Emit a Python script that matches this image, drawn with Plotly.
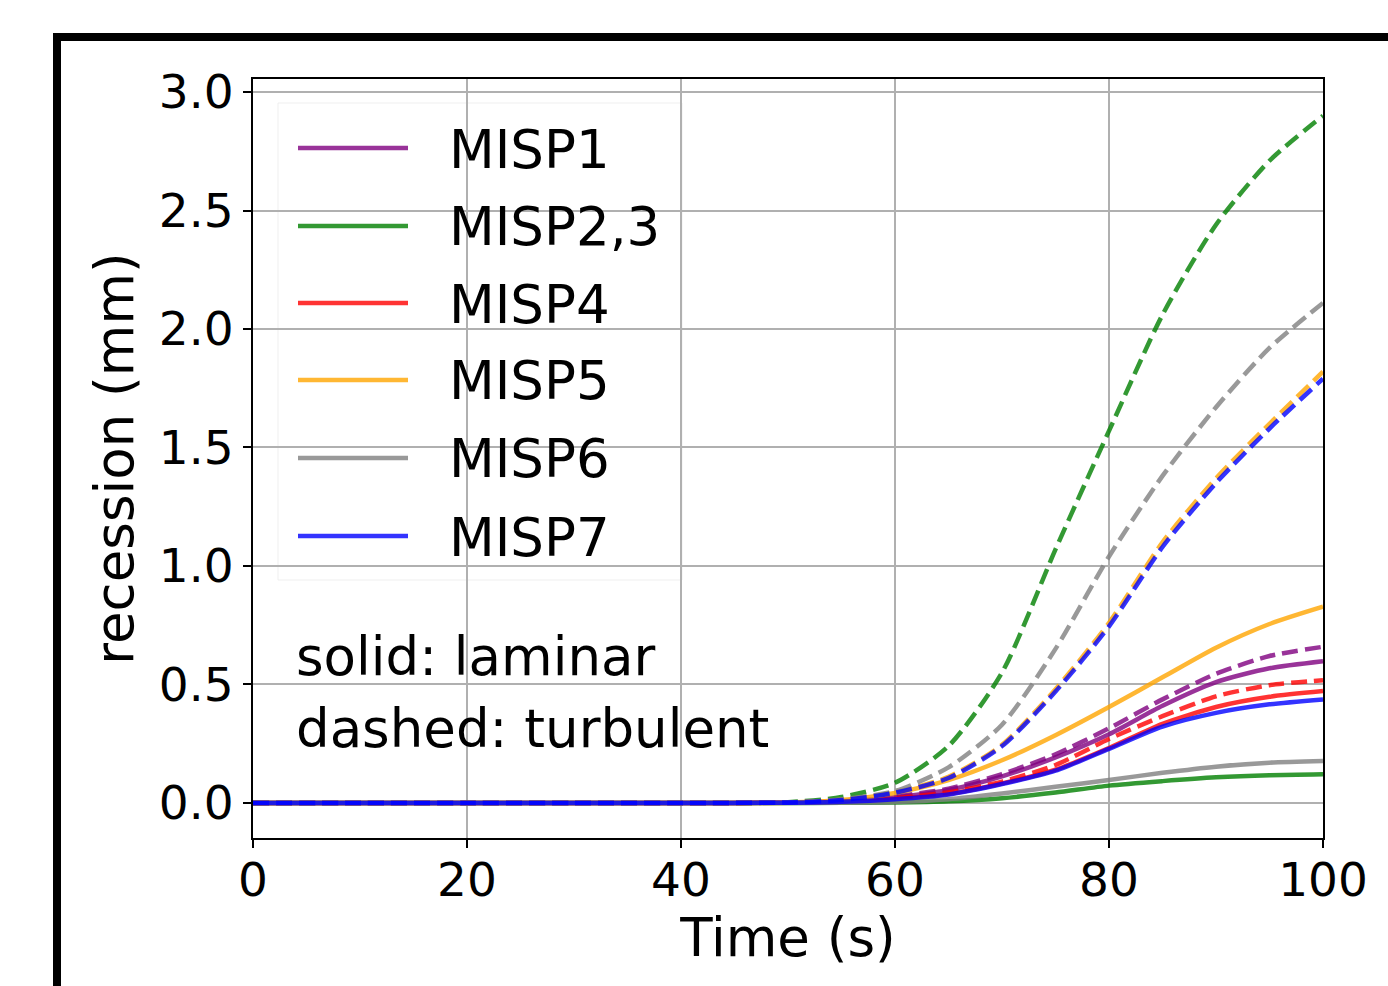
import plotly.graph_objects as go

# ---------------- data ----------------
time_s = [0, 10, 20, 30, 40, 50, 55, 60, 65, 70, 75, 80, 85, 90, 95, 100]

misp1_lam = [0, 0, 0, 0, 0, 0.001, 0.007, 0.024, 0.055, 0.112, 0.192, 0.290, 0.410, 0.510, 0.568, 0.598]
misp1_turb = [0, 0, 0, 0, 0, 0.001, 0.008, 0.028, 0.060, 0.122, 0.205, 0.315, 0.437, 0.545, 0.620, 0.659]
misp23_lam = [0, 0, 0, 0, 0, 0, 0.0005, 0.002, 0.007, 0.020, 0.044, 0.073, 0.092, 0.108, 0.117, 0.121]
misp23_turb = [0, 0, 0, 0, 0, 0.003, 0.025, 0.085, 0.24, 0.55, 1.07, 1.57, 2.06, 2.44, 2.71, 2.90]
misp4_lam = [0, 0, 0, 0, 0, 0.001, 0.005, 0.017, 0.038, 0.082, 0.140, 0.232, 0.334, 0.405, 0.448, 0.472]
misp4_turb = [0, 0, 0, 0, 0, 0.001, 0.006, 0.020, 0.045, 0.090, 0.160, 0.270, 0.366, 0.450, 0.497, 0.518]
misp5_lam = [0, 0, 0, 0, 0, 0.001, 0.012, 0.042, 0.096, 0.180, 0.286, 0.405, 0.530, 0.655, 0.755, 0.828]
misp5_turb = [0, 0, 0, 0, 0, 0.002, 0.013, 0.045, 0.11, 0.245, 0.48, 0.76, 1.10, 1.37, 1.60, 1.82]
misp6_lam = [0, 0, 0, 0, 0, 0, 0.001, 0.004, 0.016, 0.040, 0.068, 0.097, 0.127, 0.153, 0.170, 0.177]
misp6_turb = [0, 0, 0, 0, 0, 0.002, 0.015, 0.050, 0.15, 0.33, 0.65, 1.04, 1.38, 1.67, 1.92, 2.11]
misp7_lam = [0, 0, 0, 0, 0, 0.001, 0.005, 0.016, 0.036, 0.080, 0.136, 0.228, 0.322, 0.380, 0.416, 0.437]
misp7_turb = [0, 0, 0, 0, 0, 0.002, 0.012, 0.043, 0.105, 0.24, 0.47, 0.745, 1.08, 1.35, 1.58, 1.79]

series_names = ["MISP1", "MISP2,3", "MISP4", "MISP5", "MISP6", "MISP7"]
laminar = [misp1_lam, misp23_lam, misp4_lam, misp5_lam, misp6_lam, misp7_lam]
turbulent = [misp1_turb, misp23_turb, misp4_turb, misp5_turb, misp6_turb, misp7_turb]
colors = ["rgba(128,0,128,0.8)", "rgba(0,128,0,0.8)", "rgba(255,0,0,0.8)",
          "rgba(255,165,0,0.8)", "rgba(128,128,128,0.8)", "rgba(0,0,255,0.8)"]

x_ticks = [0, 20, 40, 60, 80, 100]
y_ticks = [0.0, 0.5, 1.0, 1.5, 2.0, 2.5, 3.0]
x_label = "Time (s)"
y_label = "recession (mm)"
note_lines = ["solid: laminar", "dashed: turbulent"]

# ---------------- layout geometry (pixels) ----------------
W, H = 1388, 986
L, R, T, B = 253, 1323, 79, 838
FONT = "DejaVu Sans"
LW = 4.5
DASH = "16px,7px"
TXT = 53
TICK = 47


def px(xp):
    return (xp - L) / (R - L)


def py(yp):
    return (B - yp) / (B - T)


fig = go.Figure()
for name, lam, turb, col in zip(series_names, laminar, turbulent, colors):
    fig.add_trace(go.Scatter(x=time_s, y=lam, mode="lines", name=name,
                             line=dict(color=col, width=LW, shape="spline", smoothing=0.7),
                             showlegend=False))
    fig.add_trace(go.Scatter(x=time_s, y=turb, mode="lines", name=name + " turbulent",
                             line=dict(color=col, width=LW, dash=DASH, shape="spline", smoothing=0.7),
                             showlegend=False))

shapes = []
# thick outer frame
shapes.append(dict(type="rect", xref="paper", yref="paper",
                   x0=px(57), x1=px(1420), y0=py(1020), y1=py(37),
                   line=dict(color="black", width=8), fillcolor="rgba(0,0,0,0)", layer="above"))
# legend box
shapes.append(dict(type="rect", xref="paper", yref="paper",
                   x0=px(278), x1=px(682), y0=py(580), y1=py(103),
                   line=dict(color="rgba(235,235,235,0.8)", width=1),
                   fillcolor="rgba(255,255,255,0.8)", layer="between"))

annotations = []
leg_y = [148, 226, 303, 380, 458, 536]
for name, col, yy in zip(series_names, colors, leg_y):
    shapes.append(dict(type="line", xref="paper", yref="paper",
                       x0=px(298), x1=px(408), y0=py(yy), y1=py(yy),
                       line=dict(color=col, width=LW), layer="above"))
    annotations.append(dict(text=name, xref="paper", yref="paper", x=px(447), y=py(yy + 1),
                            xanchor="left", yanchor="middle", showarrow=False,
                            font=dict(family=FONT, size=TXT, color="black")))

for txt, yy in zip(note_lines, [656, 728]):
    annotations.append(dict(text=txt, xref="paper", yref="paper", x=px(294), y=py(yy),
                            xanchor="left", yanchor="middle", showarrow=False,
                            font=dict(family=FONT, size=TXT, color="black")))

fig.update_layout(
    width=W, height=H,
    margin=dict(l=L, r=W - R, t=T, b=H - B, pad=0),
    plot_bgcolor="white", paper_bgcolor="white",
    font=dict(family=FONT, color="black"),
    shapes=shapes, annotations=annotations,
    showlegend=False,
)
fig.update_xaxes(range=[0, 100], tickvals=x_ticks, ticktext=[str(v) for v in x_ticks],
                 showgrid=True, gridcolor="#b0b0b0", gridwidth=2,
                 showline=True, linecolor="black", linewidth=2, mirror=True,
                 ticks="outside", ticklen=8, tickwidth=2, tickcolor="black",
                 ticklabelstandoff=-8,
                 tickfont=dict(family=FONT, size=TICK, color="black"),
                 zeroline=False,
                 title=dict(text=x_label, font=dict(family=FONT, size=TXT, color="black"), standoff=8))
fig.update_yaxes(range=[-0.148, 3.055], tickvals=y_ticks, ticktext=[f"{v:.1f}" for v in y_ticks],
                 showgrid=True, gridcolor="#b0b0b0", gridwidth=2,
                 showline=True, linecolor="black", linewidth=2, mirror=True,
                 ticks="outside", ticklen=8, tickwidth=2, tickcolor="black",
                 tickfont=dict(family=FONT, size=TICK, color="black"),
                 zeroline=False,
                 title=dict(text=y_label, font=dict(family=FONT, size=TXT, color="black"), standoff=8))

fig.write_html("out.html", config={"displayModeBar": False},
               post_script="document.body.style.margin='0';document.body.style.overflow='hidden';")
